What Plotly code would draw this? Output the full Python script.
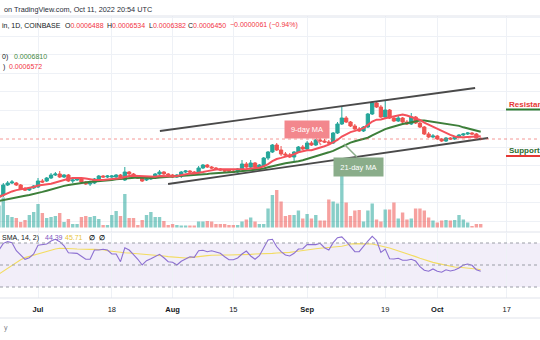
import numpy as np
import pandas as pd
import plotly.graph_objects as go

W, H = 540, 340
UNIT = 1e-7  # prices below are in units of 0.0000001 BTC

dates = pd.date_range("2022-06-22", "2022-10-11", freq="D")

open_e7 = [3318,3426,3966,4074,4074,3966,3750,3696,3804,3858,4182,4182,4344,4506,4560,4398,4506,4182,4236,4290,
           4128,4020,4074,4290,4452,4398,4398,4398,4506,4236,4668,4560,4398,4344,4236,4290,4398,4560,4668,4560,
           4506,4398,4452,4668,4722,4668,4614,4884,5046,4938,4884,4830,4776,4776,4722,4668,4830,5100,4938,5154,
           4938,4992,5424,5748,6126,5856,5640,5586,5478,5748,6018,5910,6234,6126,6396,6342,6288,6234,6774,7260,
           7584,7368,7152,6990,6882,7098,7800,8394,8178,7638,8016,7584,7422,7584,7368,7260,7638,7314,7098,6720,
           6558,6612,6450,6342,6504,6450,6558,6666,6720,6774,6720,6488]
close_e7 = [3426,3966,4074,4128,3966,3750,3696,3804,3912,4182,4128,4344,4506,4560,4398,4506,4182,4236,4290,4128,
            4020,4074,4290,4452,4398,4452,4452,4506,4290,4668,4560,4398,4344,4182,4290,4398,4560,4668,4560,4506,
            4398,4506,4668,4722,4668,4614,4884,5046,4938,4884,4830,4776,4722,4722,4668,4830,5100,4938,5154,4938,
            5046,5424,5748,6126,5856,5640,5586,5478,5748,6018,5910,6234,6126,6396,6342,6288,6234,6774,7260,7584,
            7368,7152,6990,6882,7098,7800,8394,8178,7638,8016,7584,7422,7584,7368,7260,7638,7314,7098,6720,6558,
            6612,6450,6342,6504,6450,6558,6666,6720,6774,6720,6511,6450]
high_e7 = [3480,4074,4182,4236,4128,4020,3858,3858,3966,4344,4290,4398,4614,4668,4722,4560,4560,4290,4344,4344,
           4182,4128,4344,4506,4506,4506,4506,4560,4560,4938,4722,4614,4452,4398,4344,4452,4614,4776,4722,4614,
           4560,4560,4722,4776,4776,4722,4992,5100,5100,4992,4938,4884,4830,4830,4776,4884,5316,5208,5316,5208,
           5100,5478,5802,6180,6234,6072,5748,5694,5802,6072,6126,6342,6342,6450,6504,6450,6396,6828,7368,8178,
           7692,7422,7260,7098,7152,7854,8502,8502,8286,8502,8070,7638,7692,7638,7476,7854,7692,7368,7152,6828,
           6720,6666,6504,6558,6558,6612,6720,6774,6828,6828,6774,6534]
low_e7 = [3210,3318,3912,4020,3912,3696,3642,3642,3750,3804,4074,4128,4290,4452,4344,4344,4128,4074,4182,4074,
          3966,3912,4020,4236,4344,4344,4344,4344,4236,4182,4506,4344,4290,4128,4182,4236,4344,4506,4506,4452,
          4344,4344,4344,4614,4614,4560,4560,4830,4884,4830,4776,4722,4668,4668,4614,4614,4776,4884,4884,4884,
          4884,4938,5316,5694,5802,5532,5478,5424,5208,5694,5856,5856,6072,6072,6288,6234,6180,6180,6720,7206,
          7314,7098,6936,6828,6828,7044,7746,8124,7584,7584,7530,7368,7368,7314,7206,7206,7260,7044,6666,6504,
          6504,6396,6288,6288,6396,6396,6504,6612,6666,6666,6480,6382]
# closes of the 20 sessions before Jun 22 (only used to warm up the moving averages)
warmup_close_e7 = [2886,2886,2940,2832,2994,3048,2940,2994,2886,2940,3048,2994,2940,
                   3210,3264,3318,3372,3426,3372,3480]
volume = [22,30,12.5,10.5,9.5,5.5,7.5,12.5,15.5,23.5,14.5,9.5,10.5,11.5,14.5,5.5,8.5,3.5,3.5,10.5,
          11.5,10.5,11.5,8.5,2.5,2.5,12.5,16.5,11.5,33.5,9.5,9.5,2.5,7.5,12.5,15.5,10.5,10.5,6.5,2.5,
          3.5,2.5,2,2,2,2,6,6,6.5,6,3.5,3.5,3.5,2.5,2.5,2.5,6,8,10,6,
          3.5,3.5,19,32.5,37.5,26,11.5,12.5,12.5,17,9,13.5,9,12.5,7,7,28,26,24,62,
          25,11.5,17,17.5,6,17,24,8,6,18,18,25,9,15,8,9,19,19,17,10,
          7,5,7,7.5,7,7.5,12.5,8,5,1.5,3.5,3.5]
rsi = [63.6,69.7,71.2,70.3,63.0,58.8,55.2,56.6,60.0,67.9,68.2,69.1,71.8,73.4,71.2,67.5,61.2,61.2,60.6,57.9,
       55.2,55.2,63.6,63.6,64.3,63.6,60.0,60.0,53.0,65.7,63.6,59.4,55.2,50.0,53.9,55.7,57.5,59.7,56.6,53.0,
       52.5,50.0,53.4,55.5,57.5,57.0,63.0,63.4,62.1,63.0,61.8,60.6,57.5,54.8,54.8,56.4,60.0,62.7,58.2,55.2,
       58.5,65.2,72.7,73.4,66.6,62.1,59.1,58.2,60.6,64.5,64.8,68.5,68.8,68.5,69.7,65.7,63.6,70.3,74.8,75.5,
       71.5,66.6,62.1,62.1,67.5,71.8,76.1,72.3,61.4,64.5,55.7,55.5,56.1,54.3,54.3,55.2,53.6,48.5,45.2,44.3,
       46.4,44.3,43.4,45.7,44.5,45.5,47.3,50.0,50.9,49.7,45.7,44.39]
rsi_sma = [41.8,44.5,47.0,49.7,52.4,54.8,56.7,57.9,59.1,60.3,61.2,62.1,63.3,64.5,65.2,65.2,65.2,64.8,64.5,64.2,
           64.2,64.2,64.2,64.2,63.9,63.0,62.4,61.8,61.5,61.2,60.9,60.6,60.3,60.3,60.0,59.7,59.4,58.8,58.2,57.6,
           57.3,56.7,56.1,56.4,56.7,57.3,57.9,58.2,58.5,58.8,59.1,59.1,59.1,59.1,59.1,59.1,59.4,59.7,59.7,60.0,
           60.0,60.3,60.6,60.6,60.9,60.9,61.2,61.5,62.1,62.7,63.6,63.9,64.5,64.8,65.2,65.5,65.8,65.8,66.1,67.0,
           67.9,69.1,69.4,69.4,69.4,69.4,69.1,68.2,67.6,66.4,65.5,64.2,63.0,62.1,60.9,59.1,57.6,56.1,54.8,53.3,
           52.4,51.5,50.6,49.7,48.5,48.2,47.9,47.6,47.3,47.0,46.4,45.71]

trend_upper_dates = ["2022-07-29 02:00", "2022-10-09 17:00"]
trend_upper_e7 = [6882, 9204]
trend_lower_dates = ["2022-07-30 23:00", "2022-10-12 17:00"]
trend_lower_e7 = [4020, 6504]

month_ticks = ["2022-07-01", "2022-07-18", "2022-08-01", "2022-08-15",
               "2022-09-01", "2022-09-19", "2022-10-01", "2022-10-17"]
month_text = ["<b>Jul</b>", "18", "<b>Aug</b>", "15", "<b>Sep</b>", "19", "<b>Oct</b>", "17"]

# ---------------------------------------------------------------
o = np.array(open_e7) * UNIT
c = np.array(close_e7) * UNIT
h = np.array(high_e7) * UNIT
l = np.array(low_e7) * UNIT
allc = pd.Series(warmup_close_e7 + close_e7) * UNIT
n0 = len(warmup_close_e7)
ma9 = allc.rolling(9).mean().iloc[n0:].values
ma21 = allc.rolling(21).mean().iloc[n0:].values

INC, DEC = "#26a69a", "#ef5350"
vol_colors = np.where(c >= o, "rgba(38,166,154,0.55)", "rgba(239,83,80,0.55)")

FONT = "Liberation Sans, Arial, sans-serif"
DARK = "#131722"

def px(x):
    return x / W

def py(y):
    return 1 - y / H

fig = go.Figure()
fig.add_trace(go.Bar(x=dates, y=volume, marker_color=vol_colors, marker_line_width=0,
                     width=0.78 * 86400000, xaxis="x", yaxis="y", hoverinfo="skip"))
fig.add_trace(go.Candlestick(x=dates, open=o, high=h, low=l, close=c, xaxis="x", yaxis="y2",
                             increasing=dict(line=dict(color=INC, width=1), fillcolor=INC),
                             decreasing=dict(line=dict(color=DEC, width=1), fillcolor=DEC),
                             whiskerwidth=0))
fig.add_trace(go.Scatter(x=dates, y=ma21, mode="lines", line=dict(color="#3d7f3a", width=2),
                         xaxis="x", yaxis="y2"))
fig.add_trace(go.Scatter(x=dates, y=ma9, mode="lines", line=dict(color="#f4515b", width=2),
                         xaxis="x", yaxis="y2"))
fig.add_trace(go.Scatter(x=pd.to_datetime(trend_upper_dates), y=np.array(trend_upper_e7) * UNIT,
                         mode="lines", line=dict(color="#4a4a4a", width=1.8), xaxis="x", yaxis="y2"))
fig.add_trace(go.Scatter(x=pd.to_datetime(trend_lower_dates), y=np.array(trend_lower_e7) * UNIT,
                         mode="lines", line=dict(color="#4a4a4a", width=1.8), xaxis="x", yaxis="y2"))
fig.add_trace(go.Scatter(x=dates, y=rsi_sma, mode="lines", line=dict(color="#f3dc62", width=1.1),
                         xaxis="x2", yaxis="y3"))
fig.add_trace(go.Scatter(x=dates, y=rsi, mode="lines", line=dict(color="#8c6fd1", width=1.1),
                         xaxis="x2", yaxis="y3"))

xr = ["2022-06-22 05:45", "2022-10-24 15:50"]
grid = "#eef1f6"
price_dom = [py(231.5), py(16)]
rsi_dom = [py(298), py(232.5)]

shapes = [
    dict(type="rect", xref="paper", x0=0, x1=1, yref="y3", y0=30, y1=70,
         fillcolor="rgba(126,87,194,0.1)", line=dict(width=0), layer="below"),
]
for lv in (70, 50, 30):
    shapes.append(dict(type="line", xref="paper", x0=0, x1=1, yref="y3", y0=lv, y1=lv,
                       line=dict(color="#9a9da6", width=1, dash="3px,3px")))
for yy in (16, 232, 298, 318):
    shapes.append(dict(type="line", xref="paper", x0=0, x1=1, yref="paper", y0=py(yy), y1=py(yy),
                       line=dict(color="#e0e3eb", width=1)))
shapes.append(dict(type="line", xref="paper", x0=0, x1=1, yref="y2", y0=c[-1], y1=c[-1],
                   line=dict(color="rgba(239,83,80,0.6)", width=1, dash="dot")))
# label pointers
shapes.append(dict(type="line", xref="paper", yref="paper", x0=px(316), y0=py(138), x1=px(321), y1=py(145),
                   line=dict(color="#f3878d", width=1.5)))
shapes.append(dict(type="line", xref="paper", yref="paper", x0=px(344), y0=py(144), x1=px(357), y1=py(157),
                   line=dict(color="#8aad8a", width=1.5)))
# support / resistance underlines
shapes.append(dict(type="line", xref="paper", yref="paper", x0=px(506), y0=py(109.5), x1=1, y1=py(109.5),
                   line=dict(color="#2e7d32", width=2)))
shapes.append(dict(type="line", xref="paper", yref="paper", x0=px(506), y0=py(156), x1=1, y1=py(156),
                   line=dict(color="#e53935", width=2)))

RED = "#f23645"
GREEN = "#43883f"

def ann(text, x, y, size=7, color=DARK, xanchor="left", **kw):
    d = dict(text=text, xref="paper", yref="paper", x=px(x), y=py(y), showarrow=False,
             xanchor=xanchor, yanchor="middle", font=dict(size=size, color=color, family=FONT))
    d.update(kw)
    return d

def red(s):
    return f"<span style='color:{RED}'>{s}</span>"

annotations = [
    ann("on TradingView.com, Oct 11, 2022 20:54 UTC", 1.5, 9, size=7.3, color="#2a2e39"),
    ann("in, 1D, COINBASE", 0, 25.5),
    ann("O" + red("0.0006488"), 63, 25.5),
    ann("H" + red("0.0006534"), 105, 25.5),
    ann("L" + red("0.0006382"), 147, 25.5),
    ann("C" + red("0.0006450"), 186, 25.5),
    ann(red("−0.0000061 (−0.94%)"), 228, 25.5),
    ann("0)", 0, 56.7),
    ann("0.0006810", 12, 56.7, color=GREEN),
    ann(")", 1, 66.7),
    ann("0.0006572", 7, 66.7, color=RED),
    ann("SMA, 14, 2)", 0, 238),
    ann("44.39", 43, 238, color="#7e57c2"),
    ann("45.71", 63, 238, color="#e8c53a"),
    ann("<b>∅</b>", 87, 238),
    ann("<b>∅</b>", 97, 238),
    ann("y", 1.5, 328, color="#787b86"),
    ann("9-day MA", 307, 129, size=7.5, color="white", xanchor="center",
        bgcolor="#f3878d", width=44, height=17, borderpad=0),
    ann("21-day MA", 358.5, 166.5, size=7.5, color="white", xanchor="center",
        bgcolor="#8aad8a", width=49, height=18, borderpad=0),
    ann("<b>Resistance</b>", 506.5, 104, size=8, color="#e53935"),
    ann("<b>Support</b>", 506.5, 150, size=8, color="#2e6b2e"),
]

fig.update_layout(
    width=W, height=H, autosize=False,
    margin=dict(l=0, r=0, t=0, b=0, pad=0),
    paper_bgcolor="white", plot_bgcolor="white",
    showlegend=False, boxgap=0.25, boxgroupgap=0,
    font=dict(family=FONT, size=7.5, color=DARK),
    xaxis=dict(domain=[0, 1], anchor="y", range=xr, type="date", tickvals=month_ticks,
               showticklabels=False, showgrid=True, gridcolor=grid, gridwidth=1,
               zeroline=False, showline=False, rangeslider=dict(visible=False), fixedrange=True),
    xaxis2=dict(domain=[0, 1], anchor="y3", matches="x", type="date", tickvals=month_ticks,
                ticktext=month_text, showgrid=True, gridcolor=grid, ticks="",
                tickfont=dict(size=7.5, color=DARK, family=FONT), ticklabelstandoff=5,
                zeroline=False, showline=False, rangeslider=dict(visible=False)),
    yaxis=dict(domain=price_dom, range=[-4, 211.5], showgrid=False, showticklabels=False,
               zeroline=False, showline=False),
    yaxis2=dict(overlaying="y", range=[0.0001455, 0.0013092], tick0=0, dtick=0.0001,
                showgrid=True, gridcolor=grid, showticklabels=False, zeroline=False, showline=False),
    yaxis3=dict(domain=rsi_dom, range=[20, 79.55], showgrid=False, showticklabels=False,
                zeroline=False, showline=False),
    shapes=shapes,
    annotations=annotations,
)

fig.write_html("out.html", config={"displayModeBar": False, "staticPlot": True})
